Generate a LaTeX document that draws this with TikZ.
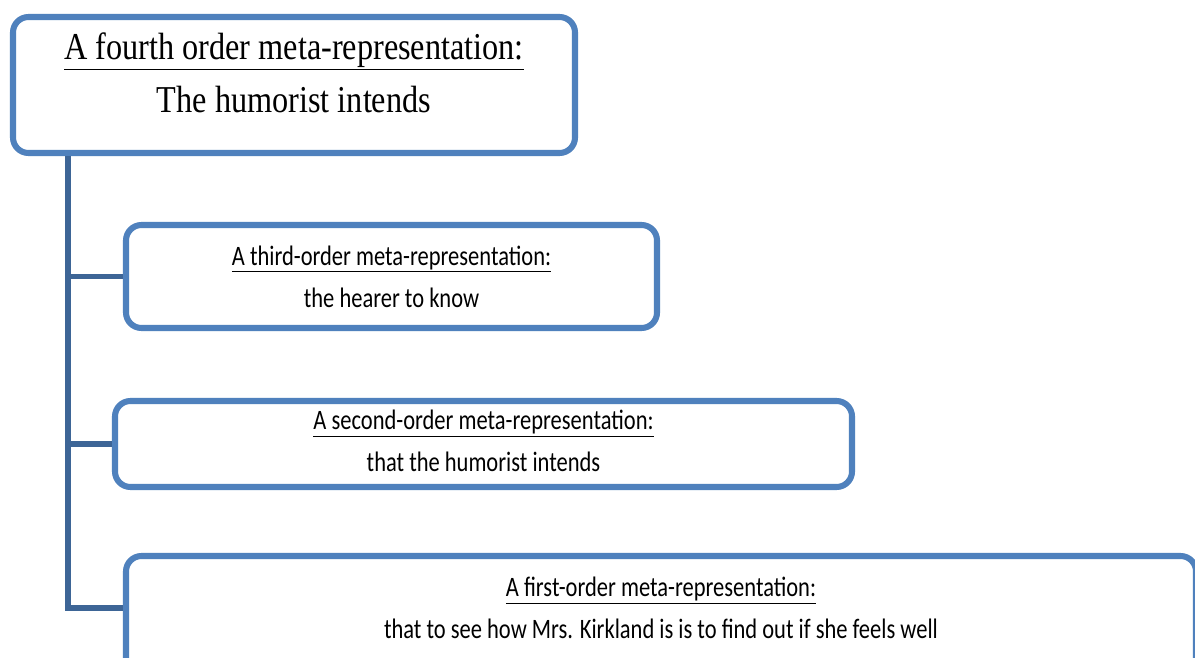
\documentclass[tikz,border=0pt]{standalone}
\usepackage{fontspec}
\setmainfont{Liberation Serif}
\newfontfamily\topfont[FakeStretch=0.85]{Liberation Serif}
\newfontfamily\boxfont[FakeStretch=0.8]{Carlito}
\usetikzlibrary{positioning,calc}
\definecolor{boxblue}{HTML}{4F81BD}
\definecolor{linkblue}{HTML}{3D6596}

\begin{document}
\begin{tikzpicture}[x=0.025cm, y=-0.025cm,
  levelbox/.style={draw=boxblue, line width=4.3pt, rounded corners=11pt, fill=white, inner sep=0pt},
  toptext/.style={align=center, font=\topfont\fontsize{27}{37.7}\selectfont},
  subtext/.style={align=center, font=\boxfont\fontsize{20}{30}\selectfont},
  link/.style={draw=linkblue, line width=3.6pt}]
\clip (0,0) rectangle (1195,657);
\fill[white] (0,0) rectangle (1195,657);

% boxes
\node[levelbox, minimum width=562*0.025cm, minimum height=136*0.025cm] (fourth) at (294,85) {};
\node[levelbox, minimum width=531*0.025cm, minimum height=103*0.025cm] (third) at (391.5,276.5) {};
\node[levelbox, minimum width=737*0.025cm, minimum height=86*0.025cm] (second) at (483.5,444) {};
\node[levelbox, minimum width=1070*0.025cm, minimum height=130*0.025cm] (first) at (661,621) {};

% texts
\node[toptext] (fourthtxt) at ($(fourth.center)+(0,-12)$) {\underline{A fourth order meta-representation:}\\The humorist intends};
\node[subtext] (thirdtxt) at (third.center) {\underline{A third-order meta-representation:}\\the hearer to know};
\node[subtext] (secondtxt) at ($(second.center)+(0,-3)$) {\underline{A second-order meta-representation:}\\that the humorist intends};
\node[subtext] (firsttxt) at ($(first.center)+(0,-13)$) {\underline{A first-order meta-representation:}\\that to see how Mrs. Kirkland is is to find out if she feels well};

% connectors
\coordinate (trunk) at (68,0);
\draw[link] (trunk |- fourth.south) |- ($(first.west)+(0,-13)$);
\draw[link] (trunk |- third.west) -- (third.west);
\draw[link] (trunk |- second.west) -- (second.west);
\end{tikzpicture}
\end{document}
